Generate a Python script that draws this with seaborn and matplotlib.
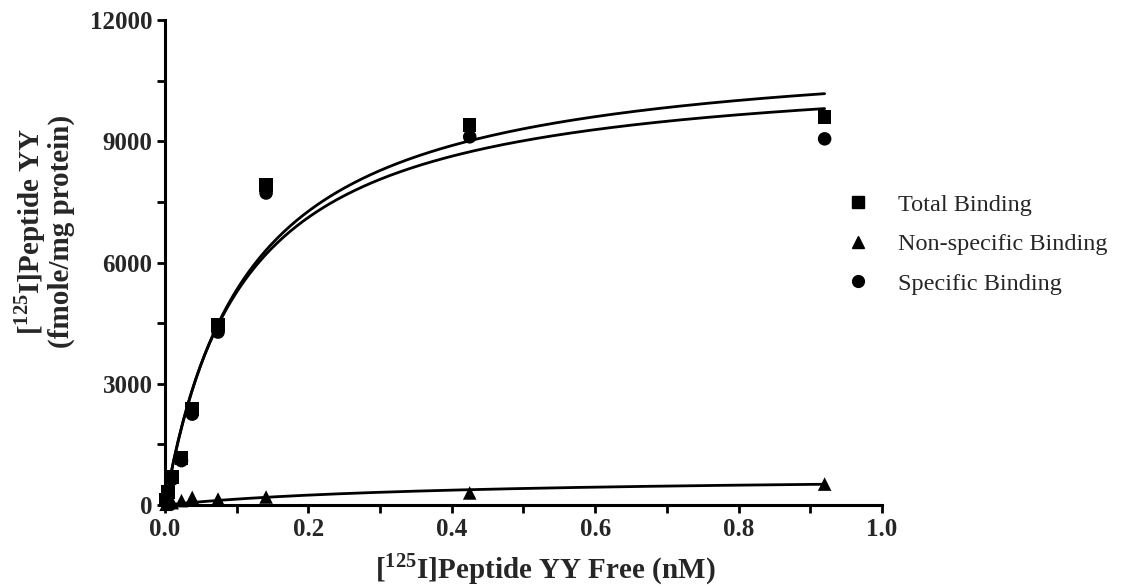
import numpy as np
import pandas as pd
import matplotlib
matplotlib.use("Agg")
import matplotlib.pyplot as plt
from matplotlib.ticker import MultipleLocator, FormatStrFormatter
from matplotlib.lines import Line2D
import seaborn as sns

# ==========================================
# 1. DATA
# ==========================================
free_nM = [0.0015, 0.004, 0.010, 0.023, 0.038, 0.074, 0.141, 0.425, 0.92]
total_binding = [120, 330, 700, 1160, 2380, 4450, 7920, 9400, 9600]
nonspecific_binding = [20, 40, 60, 110, 190, 150, 200, 300, 520]
specific_binding = [100, 290, 640, 1100, 2250, 4280, 7720, 9110, 9060]

# one-site hyperbola fits (Bmax, Kd) estimated from the drawn curves
fit_total = (11450, 0.115)
fit_nonspecific = (740, 0.40)
fit_specific = (10960, 0.108)
fit_x_max = 0.92

series_names = ["Total Binding", "Non-specific Binding", "Specific Binding"]
series_markers = ["s", "^", "o"]

# ==========================================
# 2. STYLE
# ==========================================
sns.set_theme(style="ticks")
plt.rcParams["font.family"] = ["Liberation Serif", "DejaVu Serif"]
plt.rcParams["mathtext.fontset"] = "custom"
plt.rcParams["mathtext.rm"] = "Liberation Serif"
plt.rcParams["mathtext.bf"] = "Liberation Serif:bold"

points = pd.DataFrame({
    "free": free_nM * 3,
    "bound": total_binding + nonspecific_binding + specific_binding,
    "series": np.repeat(series_names, len(free_nM)),
})

x_fit = np.linspace(0, fit_x_max, 300)
curves = pd.concat([
    pd.DataFrame({"free": x_fit, "bound": b * x_fit / (kd + x_fit), "series": name})
    for name, (b, kd) in zip(series_names, [fit_total, fit_nonspecific, fit_specific])
])

# ==========================================
# 3. PLOT
# ==========================================
fig = plt.figure(figsize=(11.41, 5.88), dpi=100)
ax = fig.add_axes([0.1446, 0.141, 0.6284, 0.825])

sns.lineplot(data=curves, x="free", y="bound", units="series", estimator=None,
             color="black", linewidth=2.0, ax=ax, legend=False)
sns.scatterplot(data=points, x="free", y="bound", style="series",
                markers=dict(zip(series_names, series_markers)),
                color="black", s=95, edgecolor="none", ax=ax, legend=False,
                clip_on=False, zorder=5)

ax.set_xlim(0, 1.0)
ax.set_ylim(0, 12000)
ax.xaxis.set_major_locator(MultipleLocator(0.2))
ax.xaxis.set_minor_locator(MultipleLocator(0.1))
ax.yaxis.set_major_locator(MultipleLocator(3000))
ax.yaxis.set_minor_locator(MultipleLocator(1500))
ax.xaxis.set_major_formatter(FormatStrFormatter("%.1f"))

sns.despine(ax=ax)
for side in ["left", "bottom"]:
    ax.spines[side].set_linewidth(2.2)
    ax.spines[side].set_color("black")
ax.tick_params(which="both", direction="out", width=2.0, length=6,
               color="black", labelsize=18, pad=3)
for lab in ax.get_xticklabels() + ax.get_yticklabels():
    lab.set_fontweight("bold")

ax.set_xlabel(r"[$^{\mathbf{125}}$I]Peptide YY Free (nM)",
              fontsize=21, fontweight="bold")
ax.xaxis.set_label_coords(0.53, -0.095)
ax.set_ylabel("[$^{\\mathbf{125}}$I]Peptide YY\n(fmole/mg protein)",
              fontsize=21, fontweight="bold", linespacing=1.0)
ax.yaxis.set_label_coords(-0.125, 0.565)

handles = [Line2D([], [], linestyle="none", marker=m, color="black",
                  markersize=8.5) for m in series_markers]
ax.legend(handles, series_names, loc="center left",
          bbox_to_anchor=(0.902, 0.538), frameon=False, fontsize=17.5,
          handletextpad=0.65, labelspacing=0.72)

fig.savefig("out.png", dpi=100)
plt.close(fig)
